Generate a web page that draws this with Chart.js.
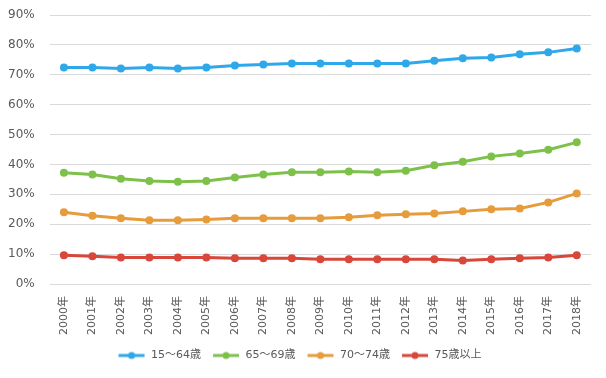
<!DOCTYPE html>
<html>
<head>
<meta charset="utf-8">
<script src="https://cdn.jsdelivr.net/npm/chart.js@4.4.1/dist/chart.umd.min.js"></script>
<style>
  html, body { margin: 0; padding: 0; background: #fff; }
  #wrap { width: 606px; height: 378px; }
</style>
</head>
<body>
<div id="wrap"><canvas id="chart"></canvas></div>
<script>
const years = ["2000年","2001年","2002年","2003年","2004年","2005年","2006年","2007年","2008年","2009年",
               "2010年","2011年","2012年","2013年","2014年","2015年","2016年","2017年","2018年"];
const age15to64 = [72.4,72.4,72.1,72.4,72.1,72.4,73.1,73.4,73.8,73.8,73.8,73.8,73.8,74.7,75.5,75.8,76.9,77.5,78.8];
const age65to69 = [37.2,36.6,35.2,34.5,34.2,34.5,35.6,36.6,37.4,37.4,37.6,37.4,37.9,39.7,40.9,42.7,43.7,44.9,47.4];
const age70to74 = [24.0,22.8,22.0,21.3,21.3,21.6,22.0,22.0,22.0,22.0,22.3,23.0,23.3,23.6,24.3,25.0,25.3,27.3,30.3];
const age75plus = [9.6,9.3,8.9,8.9,8.9,8.9,8.6,8.6,8.6,8.3,8.3,8.3,8.3,8.3,7.9,8.3,8.6,8.9,9.6];
const seriesNames = ["15～64歳","65～69歳","70～74歳","75歳以上"];
const seriesColors = ["#2fa8ea","#7dc14b","#e69c3c","#d8473a"];

const FONT = "'DejaVu Sans', 'Noto Sans CJK JP', sans-serif";
const TEXT = "#595959";

// legend marker: short line with a dot in the middle
function legendMarker(color) {
    const c = document.createElement("canvas");
    c.width = 28; c.height = 10;
    const g = c.getContext("2d");
    g.strokeStyle = color;
    g.lineWidth = 3;
    g.beginPath(); g.moveTo(1, 5); g.lineTo(27, 5); g.stroke();
    g.fillStyle = color;
    g.beginPath(); g.arc(14, 5, 3.5, 0, Math.PI * 2); g.fill();
    return c;
}

const allSeries = [age15to64, age65to69, age70to74, age75plus];
const datasets = allSeries.map(function (vals, i) {
    return {
        label: seriesNames[i],
        data: vals,
        borderColor: seriesColors[i],
        backgroundColor: seriesColors[i],
        borderWidth: 3,
        pointRadius: 4,
        pointHoverRadius: 4,
        pointBorderWidth: 0,
        tension: 0,
        fill: false
    };
});

new Chart(document.getElementById("chart").getContext("2d"), {
    type: "line",
    data: { labels: years, datasets: datasets },
    options: {
        responsive: true,
        maintainAspectRatio: false,
        animation: false,
        layout: { padding: { left: 8, right: 15, top: 0, bottom: 7 } },
        plugins: {
            tooltip: { enabled: false },
            legend: {
                display: true,
                position: "bottom",
                labels: {
                    font: { family: FONT, size: 11 },
                    color: TEXT,
                    usePointStyle: true,
                    pointStyleWidth: 28,
                    boxHeight: 10,
                    padding: 11,
                    generateLabels: function (chart) {
                        return chart.data.datasets.map(function (ds, i) {
                            return {
                                text: ds.label,
                                fillStyle: ds.borderColor,
                                strokeStyle: ds.borderColor,
                                lineWidth: 0,
                                pointStyle: legendMarker(ds.borderColor),
                                fontColor: TEXT,
                                datasetIndex: i
                            };
                        });
                    }
                }
            }
        },
        scales: {
            x: {
                offset: true,
                grid: { display: false },
                border: { display: false },
                ticks: {
                    color: TEXT,
                    font: { family: FONT, size: 11 },
                    maxRotation: 90,
                    minRotation: 90,
                    autoSkip: false,
                    padding: 4
                }
            },
            y: {
                min: 0,
                max: 90,
                grid: { color: "#d9d9d9", lineWidth: 1, drawTicks: false },
                border: { display: false },
                ticks: {
                    stepSize: 10,
                    color: TEXT,
                    font: { family: FONT, size: 12 },
                    padding: 15,
                    callback: function (v) { return v + "%"; }
                },
                // tick padding gets counted into the top and the width too
                afterFit: function (scale) {
                    scale.paddingTop = 15;
                    scale.width -= 15;
                }
            }
        }
    }
});
</script>
</body>
</html>
